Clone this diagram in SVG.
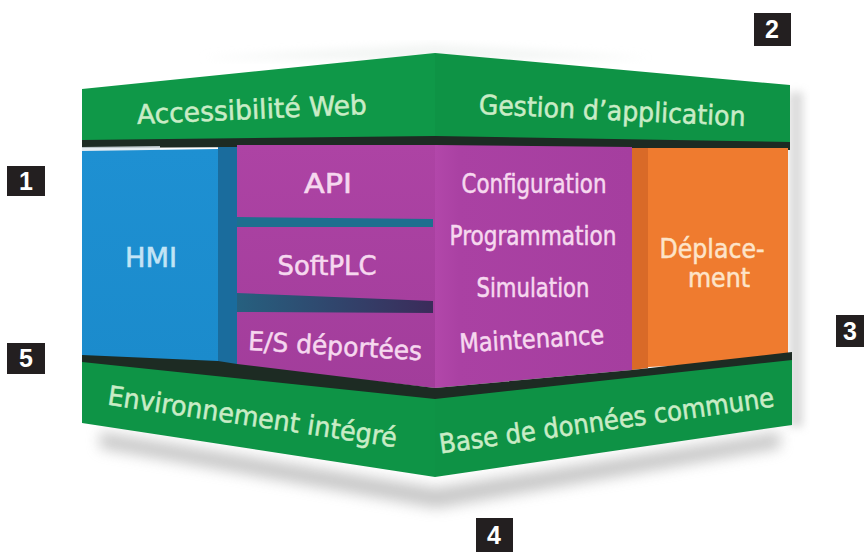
<svg xmlns="http://www.w3.org/2000/svg" width="866" height="552" viewBox="0 0 866 552">
<defs>
<filter id="soft" x="-20%" y="-60%" width="140%" height="220%"><feGaussianBlur stdDeviation="7"/></filter>
<filter id="soft2" x="-50%" y="-20%" width="200%" height="140%"><feGaussianBlur stdDeviation="4"/></filter>
<linearGradient id="bar2" x1="0" y1="0" x2="1" y2="0"><stop offset="0" stop-color="#26607f"/><stop offset="1" stop-color="#3b2b5a"/></linearGradient>
<linearGradient id="purpL" x1="0" y1="0" x2="0" y2="1"><stop offset="0" stop-color="#ad43a4"/><stop offset="1" stop-color="#a23d9b"/></linearGradient>
<linearGradient id="purpR" x1="0" y1="0" x2="1" y2="0"><stop offset="0" stop-color="#b247aa"/><stop offset="0.12" stop-color="#aa41a3"/><stop offset="1" stop-color="#a53e9f"/></linearGradient>
<linearGradient id="blueG" x1="0" y1="0" x2="0" y2="1"><stop offset="0" stop-color="#1e90d2"/><stop offset="1" stop-color="#1b8bcc"/></linearGradient>
<style>
.lbl{font-family:"Liberation Sans Narrow","DejaVu Sans Condensed","Liberation Sans",Arial,sans-serif;text-anchor:middle;stroke-width:0.5px}
.g{fill:#c9ecc6;stroke:#c9ecc6;font-size:27px}
.p{fill:#f6d8ef;stroke:#f6d8ef;font-size:26px}
.b{fill:#c3e4f6;stroke:#c3e4f6;font-size:26px}
.o{fill:#fde4c9;stroke:#fde4c9;font-size:26px}
.badge rect{fill:#231f20}
.badge text{fill:#ffffff;font-family:"Liberation Sans Narrow","Liberation Sans",Arial,sans-serif;font-weight:bold;font-size:25px;text-anchor:middle}
.shade{fill:#1d2b23}
</style>
</defs>
<rect width="866" height="552" fill="#ffffff"/>

<!-- soft shadows -->
<polygon points="100,432 436,488 780,432 780,448 436,508 100,448" fill="#9a9a9a" opacity="0.55" filter="url(#soft)"/>
<rect x="789" y="92" width="14" height="335" fill="#b8b8b8" opacity="0.5" filter="url(#soft2)"/>
<polygon points="200,58 435,44 650,58 435,60" fill="#e6ebe8" opacity="0.5" filter="url(#soft2)"/>

<!-- top slab -->
<g id="top-left">
<polygon points="82,89 435,53 435,137 82,141" fill="#0f9848"/>
<text class="lbl g" x="252" y="119" textLength="230" lengthAdjust="spacingAndGlyphs" transform="rotate(-2.5 252 114)">Accessibilité Web</text>
</g>
<g id="top-right">
<polygon points="435,53 790,85 790,143 435,137" fill="#0e9345"/>
<text class="lbl g" x="612" y="120" textLength="267" lengthAdjust="spacingAndGlyphs" transform="rotate(2.6 612 115)">Gestion d’application</text>
</g>
<polygon class="shade" points="82,140 435,136 790,142 790,150 435,146 82,148"/>
<polygon points="82,147 160,146 160,151 82,152" fill="#dfe7ee" opacity="0.8"/>

<!-- middle -->
<g id="hmi">
<polygon points="82,151 218,149 218,362 82,356" fill="url(#blueG)"/>
<rect x="218" y="147" width="19" height="218" fill="#1a6c9d"/>
<text class="lbl b" x="151" y="267" textLength="52" lengthAdjust="spacingAndGlyphs">HMI</text>
</g>
<g id="purple-left">
<polygon points="237,145 435,145 435,388 237,366" fill="url(#purpL)"/>
</g>
<g id="api">
<text class="lbl p" x="328" y="193" textLength="48" lengthAdjust="spacingAndGlyphs">API</text>
</g>
<polygon points="237,217 433,219 433,227 237,227" fill="#1d6f8f"/>
<g id="softplc">
<text class="lbl p" x="327" y="275" textLength="99" lengthAdjust="spacingAndGlyphs">SoftPLC</text>
</g>
<polygon points="237,293 433,301 433,313 237,312" fill="url(#bar2)"/>
<g id="es-deportees">
<text class="lbl p" x="335" y="355" textLength="174" lengthAdjust="spacingAndGlyphs" transform="rotate(3.5 335 350)">E/S déportées</text>
</g>
<g id="purple-right">
<polygon points="435,145 632,147 632,370 435,388" fill="url(#purpR)"/>
</g>
<g id="configuration">
<text class="lbl p" x="534" y="193" textLength="145" lengthAdjust="spacingAndGlyphs">Configuration</text>
</g>
<g id="programmation">
<text class="lbl p" x="533" y="245" textLength="167" lengthAdjust="spacingAndGlyphs">Programmation</text>
</g>
<g id="simulation">
<text class="lbl p" x="533" y="297" textLength="113" lengthAdjust="spacingAndGlyphs">Simulation</text>
</g>
<g id="maintenance">
<text class="lbl p" x="532" y="348" textLength="145" lengthAdjust="spacingAndGlyphs" transform="rotate(-3.5 532 344)">Maintenance</text>
</g>
<g id="deplacement">
<polygon points="632,148 648,148 648,368 632,370" fill="#d96a28"/>
<polygon points="648,148 788,148 788,360 648,367" fill="#ef7b2f"/>
<text class="lbl o" x="712" y="258" textLength="105" lengthAdjust="spacingAndGlyphs">Déplace-</text>
<text class="lbl o" x="719" y="287" textLength="62" lengthAdjust="spacingAndGlyphs">ment</text>
</g>
<polygon class="shade" points="82,355 218,361 237,364 435,388 632,370 792,352 792,362 435,401 82,364"/>

<!-- bottom slab -->
<g id="bottom-left">
<polygon points="82,362 435,399 435,477 82,423" fill="#0e9446"/>
<text class="lbl g" x="252" y="426" textLength="292" lengthAdjust="spacingAndGlyphs" transform="rotate(8.4 252 420)">Environnement intégré</text>
</g>
<g id="bottom-right">
<polygon points="435,399 792,360 792,425 435,477" fill="#0e9245"/>
<text class="lbl g" x="607" y="430" textLength="338" lengthAdjust="spacingAndGlyphs" transform="rotate(-8 607 424)">Base de données commune</text>
</g>

<g id="connectors"/>

<!-- badges -->
<g id="badge-1" class="badge"><rect x="7" y="166" width="38" height="30"/><text x="26" y="190">1</text></g>
<g id="badge-2" class="badge"><rect x="754" y="13" width="37" height="33"/><text x="772" y="38">2</text></g>
<g id="badge-3" class="badge"><rect x="836" y="315" width="28" height="32"/><text x="850" y="340">3</text></g>
<g id="badge-4" class="badge"><rect x="476" y="518" width="37" height="34"/><text x="494" y="544">4</text></g>
<g id="badge-5" class="badge"><rect x="7" y="343" width="38" height="31"/><text x="26" y="367">5</text></g>
</svg>
